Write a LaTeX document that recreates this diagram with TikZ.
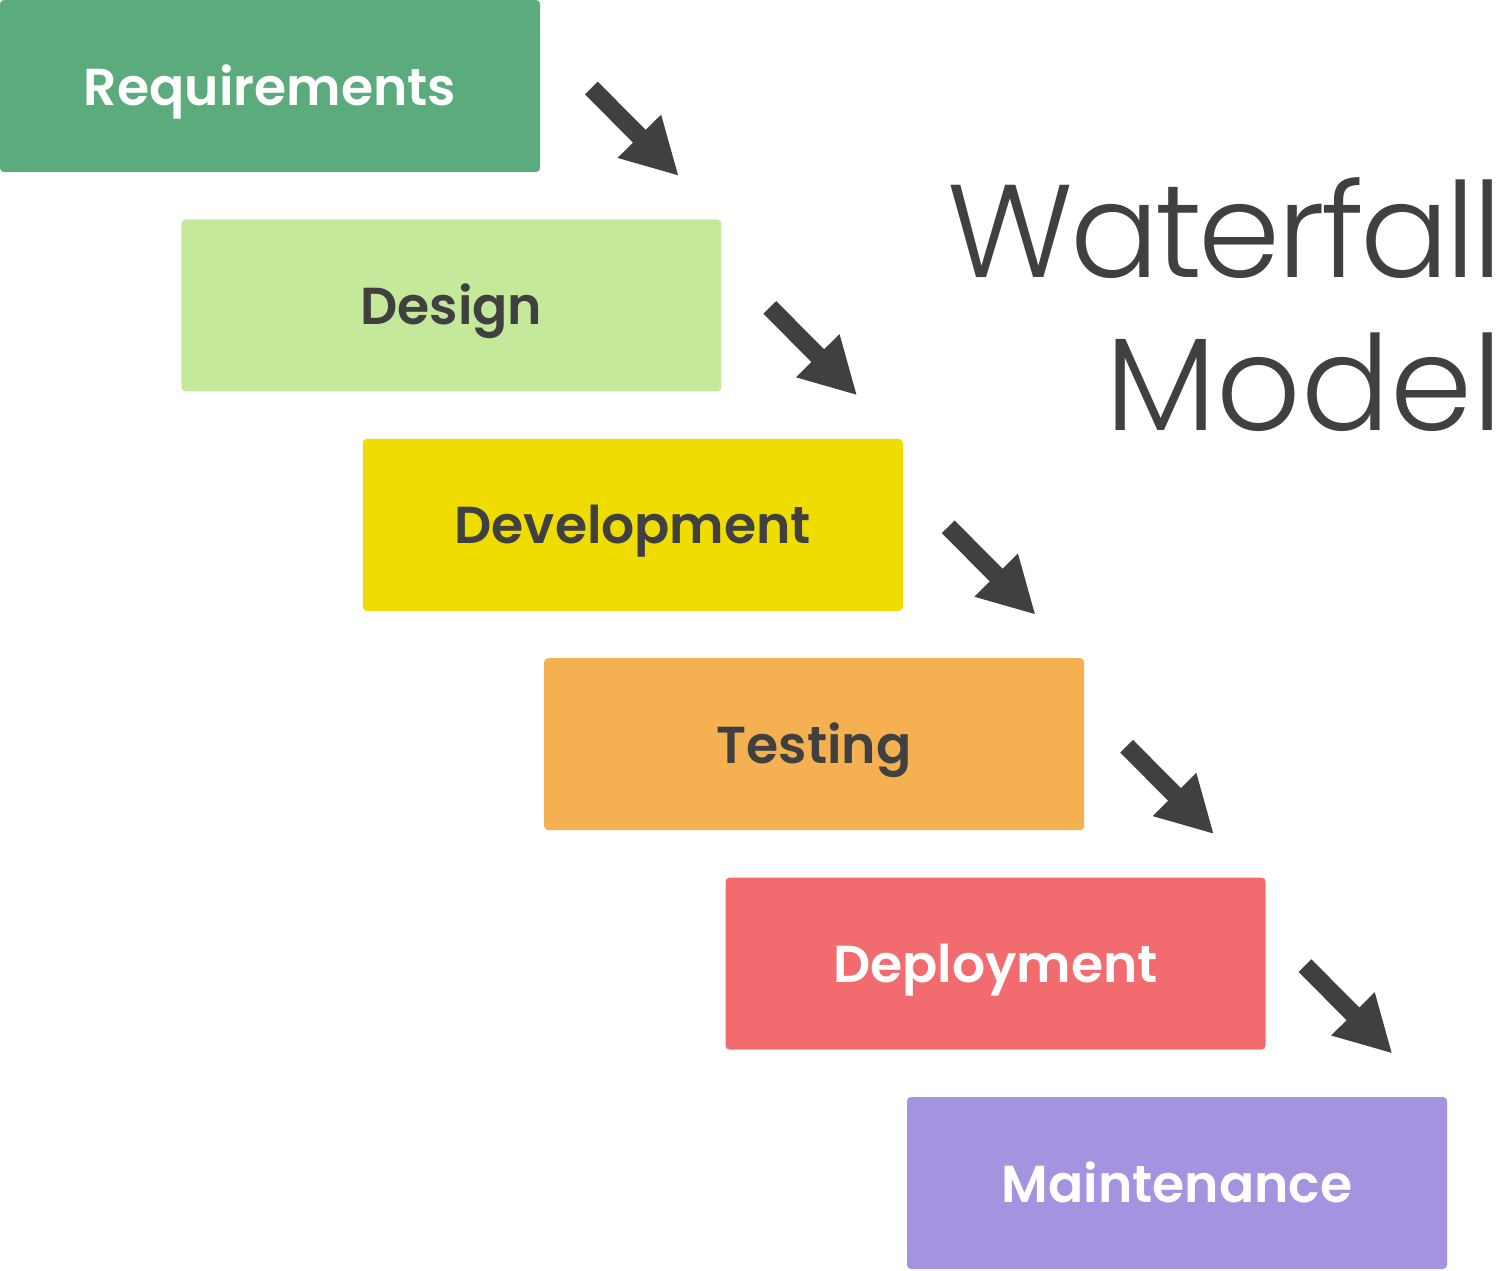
\documentclass[tikz,border=0pt]{standalone}
\usepackage{fontspec}
\setmainfont{Poppins}[BoldFont=* SemiBold]
\newfontfamily\thinfont{Poppins}[UprightFont=* Light]
\newfontfamily\thinfonttight{Poppins}[UprightFont=* Light, LetterSpace=-2.8]
\usepackage{tikz}
\usetikzlibrary{arrows.meta}

\definecolor{reqgreen}{HTML}{5BAB7C}
\definecolor{desgreen}{HTML}{C5E99B}
\definecolor{devyellow}{HTML}{EFDC00}
\definecolor{testorange}{HTML}{F5B151}
\definecolor{deplred}{HTML}{F26B6F}
\definecolor{maintpurple}{HTML}{A593E0}
\definecolor{darkgray}{HTML}{404040}

\tikzset{
    phase/.style={rectangle, rounded corners=2pt, minimum width=270pt, minimum height=86pt,
        inner sep=0pt, text height=19pt, text depth=0pt,
        font=\bfseries\fontsize{26}{28}\selectfont},
    fallarrow/.style={draw=darkgray, line width=9pt, -{Triangle[length=28pt, width=28.5pt]}},
    titletext/.style={inner sep=0pt, anchor=base east, text=darkgray}
}

\begin{document}
\begin{tikzpicture}[x=0.5pt, y=-0.5pt]
    \useasboundingbox (0,0) rectangle (1500,1270);

    \node[phase, fill=reqgreen, text=white]       (req)   at (270,86)      {Requirements};
    \node[phase, fill=desgreen, text=darkgray]    (des)   at (451.4,305.4) {Design};
    \node[phase, fill=devyellow, text=darkgray]   (dev)   at (632.8,524.8) {Development};
    \node[phase, fill=testorange, text=darkgray]  (test)  at (814.2,744.2) {Testing};
    \node[phase, fill=deplred, text=white]        (depl)  at (995.6,963.6) {Deployment};
    \node[phase, fill=maintpurple, text=white]    (maint) at (1177,1183)   {Maintenance};

    \draw[fallarrow] ([shift={(51,2)}]req.east)  -- ([shift={(-43,-43)}]des.north east);
    \draw[fallarrow] ([shift={(48,2)}]des.east)  -- ([shift={(-46,-43)}]dev.north east);
    \draw[fallarrow] ([shift={(45,2)}]dev.east)  -- ([shift={(-49,-43)}]test.north east);
    \draw[fallarrow] ([shift={(42,2)}]test.east) -- ([shift={(-52,-43)}]depl.north east);
    \draw[fallarrow] ([shift={(39,2)}]depl.east) -- ([shift={(-55,-43)}]maint.north east);

    \node[titletext, font=\thinfonttight\fontsize{66}{70}\selectfont] (title1) at (1503,277) {Waterfall};
    \node[titletext, font=\thinfont\fontsize{66}{70}\selectfont]      (title2) at (1503,430) {Model};
\end{tikzpicture}
\end{document}
